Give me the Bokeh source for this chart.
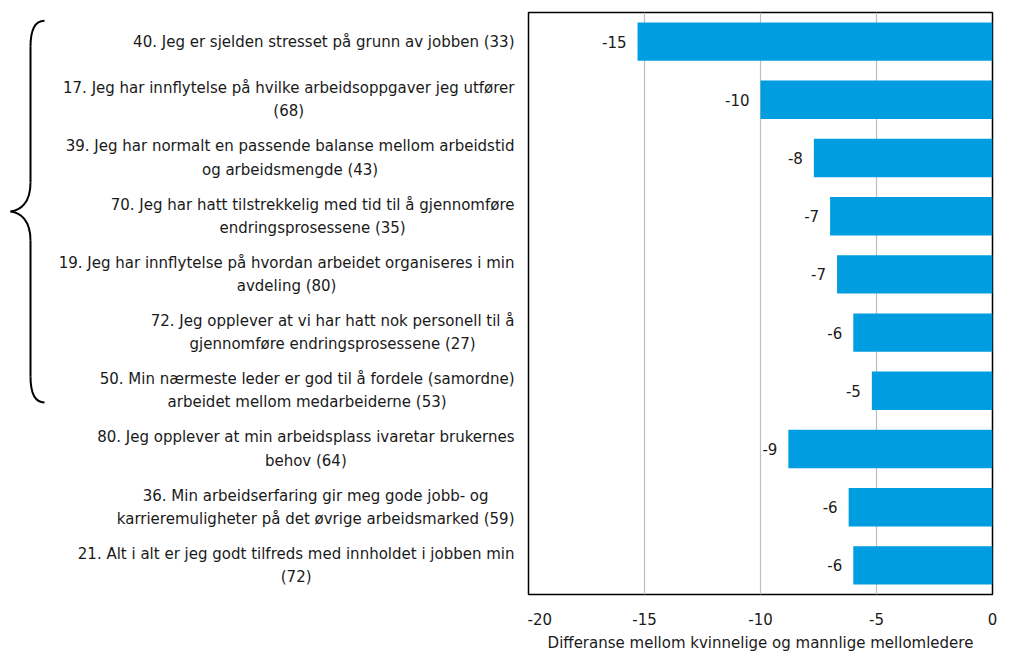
from bokeh.plotting import figure
from bokeh.layouts import row
from bokeh.models import Range1d, FixedTicker, ColumnDataSource
from bokeh.core.properties import value
from bokeh.embed import file_html
from bokeh.resources import INLINE

# ---- data ----
labels = [
    "40. Jeg er sjelden stresset på grunn av jobben (33)",
    "17. Jeg har innflytelse på hvilke arbeidsoppgaver jeg utfører\n(68)",
    "39. Jeg har normalt en passende balanse mellom arbeidstid\nog arbeidsmengde (43)",
    "70. Jeg har hatt tilstrekkelig med tid til å gjennomføre\nendringsprosessene (35)",
    "19. Jeg har innflytelse på hvordan arbeidet organiseres i min\navdeling (80)",
    "72. Jeg opplever at vi har hatt nok personell til å\ngjennomføre endringsprosessene (27)",
    "50. Min nærmeste leder er god til å fordele (samordne)\narbeidet mellom medarbeiderne (53)",
    "80. Jeg opplever at min arbeidsplass ivaretar brukernes\nbehov (64)",
    "36. Min arbeidserfaring gir meg gode jobb- og\nkarrieremuligheter på det øvrige arbeidsmarked (59)",
    "21. Alt i alt er jeg godt tilfreds med innholdet i jobben min\n(72)",
]
values = [-15.3, -10.0, -7.7, -7.0, -6.7, -6.0, -5.2, -8.8, -6.2, -6.0]
x_ticks = [-20, -15, -10, -5, 0]
x_tick_labels = ["-20", "-15", "-10", "-5", "0"]
x_title = "Differanse mellom kvinnelige og mannlige mellomledere"
bracket_count = 7  # first seven items are grouped by the brace

# ---- styling ----
FONT = value("DejaVu Sans")
TXT = "#1a1a1a"
BAR = "#009EE0"
H = 654
TOP = 12
BOTTOM = 54

n = len(labels)
ys = [i + 0.5 for i in range(n)]
vlabels = [str(int(round(v))) for v in values]

y_range = Range1d(n, 0)

# ---- right: bar chart ----
RW = 470
p = figure(width=RW, height=H, x_range=Range1d(-20, 0), y_range=y_range,
           output_backend="svg", toolbar_location=None,
           min_border_left=1, min_border_right=5,
           min_border_top=TOP, min_border_bottom=BOTTOM)
src = ColumnDataSource(dict(y=ys, v=values, lab=vlabels))
p.hbar(y="y", left=0, right="v", height=0.66, source=src,
       fill_color=BAR, line_color=None)
p.text(x="v", y="y", text="lab", source=src, x_offset=-11,
       text_align="right", text_baseline="middle",
       text_font=FONT, text_font_size="15px", text_color=TXT)

p.yaxis.visible = False
p.ygrid.grid_line_color = None
p.xgrid.ticker = FixedTicker(ticks=x_ticks)
p.xgrid.grid_line_color = "#BEBEBE"
p.xgrid.grid_line_width = 1.2
p.outline_line_color = "black"
p.outline_line_width = 1.5
p.outline_line_alpha = 1


def style_xaxis(ax, hidden=False):
    ax.ticker = FixedTicker(ticks=x_ticks)
    ax.major_label_overrides = {t: s for t, s in zip(x_ticks, x_tick_labels)}
    ax.axis_label = x_title
    ax.axis_line_color = None
    ax.major_tick_line_color = None
    ax.minor_tick_line_color = None
    ax.major_label_standoff = 12
    ax.axis_label_standoff = 6
    ax.major_label_text_font = "DejaVu Sans"
    ax.major_label_text_font_size = "15px"
    ax.major_label_text_color = TXT
    ax.axis_label_text_font = "DejaVu Sans"
    ax.axis_label_text_font_size = "15px"
    ax.axis_label_text_font_style = "normal"
    ax.axis_label_text_color = TXT
    if hidden:
        ax.major_label_text_alpha = 0
        ax.axis_label_text_alpha = 0


style_xaxis(p.xaxis[0])

# ---- left: category labels and brace ----
LW = 527
q = figure(width=LW, height=H, x_range=Range1d(0, LW), y_range=y_range,
           output_backend="svg", toolbar_location=None,
           min_border_left=0, min_border_right=0,
           min_border_top=TOP, min_border_bottom=BOTTOM)
q.yaxis.visible = False
q.grid.grid_line_color = None
q.outline_line_color = None
style_xaxis(q.xaxis[0], hidden=True)

q.text(x=[LW - 13] * n, y=ys, text=labels,
       anchor=value("center_right"), text_align="center",
       text_baseline="middle", text_line_height=1.3,
       text_font=FONT, text_font_size="15px", text_color=TXT)

# brace spanning the first `bracket_count` rows
y_top = 0.14
y_bot = bracket_count - 0.3
y_mid = (y_top + y_bot) / 2
sx, tx, ex = 30, 10, 44
q.quadratic(x0=[ex, sx], y0=[y_top, y_bot - 0.45],
            x1=[sx, ex], y1=[y_top + 0.45, y_bot],
            cx=[sx, sx], cy=[y_top, y_bot],
            line_color="black", line_width=2)
q.segment(x0=[sx, sx], y0=[y_top + 0.45, y_mid + 0.5],
          x1=[sx, sx], y1=[y_mid - 0.5, y_bot - 0.45],
          line_color="black", line_width=2)
q.bezier(x0=[sx, tx], y0=[y_mid - 0.5, y_mid],
         x1=[tx, sx], y1=[y_mid, y_mid + 0.5],
         cx0=[sx, 20], cy0=[y_mid - 0.15, y_mid + 0.02],
         cx1=[20, sx], cy1=[y_mid - 0.02, y_mid + 0.15],
         line_color="black", line_width=2)

layout = row(q, p)
open("out.html", "w").write(file_html(layout, INLINE))
